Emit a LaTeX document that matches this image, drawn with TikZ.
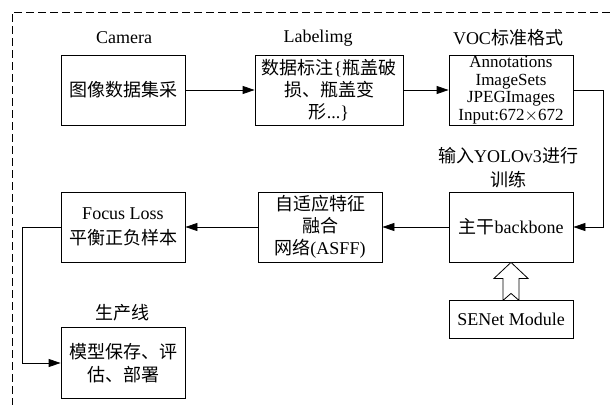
\documentclass[tikz,border=0pt]{standalone}
\usepackage{fontspec}
\setmainfont{Liberation Serif}
\newfontfamily\cjk{Noto Sans CJK SC}
\usetikzlibrary{arrows.meta}
\newcommand{\zh}[1]{{\cjk #1}}
\tikzset{
  box/.style={draw, line width=0.8pt, minimum width=124pt, minimum height=70pt,
    inner sep=1pt, align=center, font=\fontsize{18}{22}\selectfont},
  lbl/.style={inner sep=0pt, align=center, font=\fontsize{18}{24}\selectfont},
  arr/.style={line width=0.8pt, -{Triangle[length=12pt,width=8pt]}},
}
\begin{document}
\begin{tikzpicture}[x=1pt,y=-1pt]
\useasboundingbox (0,0) rectangle (610,405);
% frame
\draw[line width=0.8pt, dash pattern=on 8pt off 4pt] (610,12) -- (12,12) -- (12,405);
% top row
\node[lbl] (camlbl) at (124,38) {Camera};
\node[lbl] (lablbl) at (318,38) {Labelimg};
\node[lbl] (voclbl) at (508,38) {VOC\zh{标准格式}};
\node[box] (cam) at (123,90) {\zh{图像数据集采}};
\node[box, minimum width=148pt] (lab) at (329,90) {\zh{数据标注}\{\zh{瓶盖破}\\\zh{损、瓶盖变}\\\zh{形}...\}};
\node[box, font=\fontsize{17}{17.5}\selectfont] (voc) at (511,90) {Annotations\\ImageSets\\JPEGImages\\Input:672$\times$672};
\draw[arr] (cam) -- (lab);
\draw[arr] (lab) -- (voc);
% middle row
\node[lbl] (yololbl) at (508,168) {\zh{输入}YOLOv3\zh{进行}\\\zh{训练}};
\node[box] (bb) at (511,227) {\zh{主干}backbone};
\node[box] (asff) at (320,227) {\zh{自适应特征}\\\zh{融合}\\\zh{网络}(ASFF)};
\node[box, font=\fontsize{18}{25}\selectfont] (focus) at (123,227) {Focus Loss\\\zh{平衡正负样本}};
\draw[arr] (voc.east) -- ++(30,0) |- (bb.east);
\draw[arr] (bb) -- (asff);
\draw[arr] (asff) -- (focus);
% SENet
\draw[line width=0.8pt, fill=white, shift={(bb.south)}]
  (0,0) -- (17,16) -- (8,16) -- (8,38) -- (0,31) -- (-8,38) -- (-8,16) -- (-17,16) -- cycle;
\node[box, minimum height=38pt, fill=white] (se) at (511,319) {SENet Module};
% bottom
\node[lbl] (prodlbl) at (122,313) {\zh{生产线}};
\node[box, minimum height=71pt, font=\fontsize{18}{23}\selectfont] (prod) at (123,363) {\zh{模型保存、评}\\\zh{估、部署}};
\draw[arr] (focus.west) -- ++(-38,0) |- (prod.west);
\end{tikzpicture}
\end{document}
